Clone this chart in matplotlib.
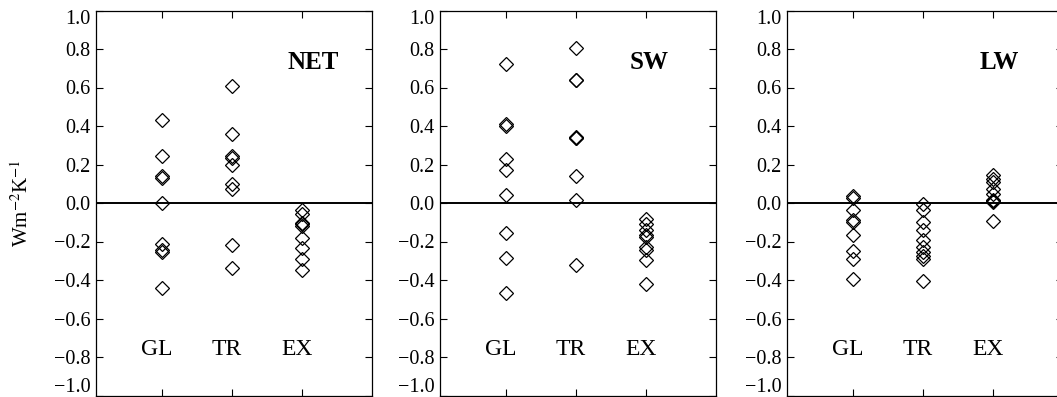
import matplotlib.pyplot as plt
import matplotlib.transforms as mtransforms
import numpy as np

plt.rcParams['font.family'] = ['Liberation Serif', 'DejaVu Serif']
plt.rcParams['mathtext.fontset'] = 'stix'

regions = ['GL', 'TR', 'EX']
panels = ['NET', 'SW', 'LW']

# feedback values per region
net_gl = [0.43, 0.245, 0.14, 0.13, 0.0, -0.215, -0.245, -0.255, -0.44]
net_tr = [0.61, 0.358, 0.242, 0.232, 0.2, 0.1, 0.074, -0.216, -0.336]
net_ex = [-0.035, -0.055, -0.104, -0.111, -0.118, -0.18, -0.234, -0.29, -0.346]

sw_gl = [0.724, 0.409, 0.398, 0.23, 0.173, 0.04, -0.156, -0.284, -0.468]
sw_tr = [0.807, 0.641, 0.637, 0.343, 0.340, 0.336, 0.14, 0.017, -0.324]
sw_ex = [-0.081, -0.111, -0.142, -0.168, -0.177, -0.229, -0.242, -0.294, -0.423]

lw_gl = [0.035, 0.028, -0.035, -0.09, -0.097, -0.165, -0.249, -0.289, -0.393]
lw_tr = [-0.005, -0.035, -0.1, -0.14, -0.19, -0.23, -0.255, -0.275, -0.29, -0.405]
lw_ex = [0.145, 0.125, 0.11, 0.075, 0.045, 0.018, 0.01, 0.005, -0.095]

data = [[net_gl, net_tr, net_ex],
        [sw_gl, sw_tr, sw_ex],
        [lw_gl, lw_tr, lw_ex]]

yticks = np.round(np.arange(-1.0, 1.01, 0.2), 1)
ylabels = [('%.1f' % abs(v)) if v >= 0 else '\u2212%.1f' % abs(v) for v in yticks]
lefts = [96, 440, 787]
title_x = [3.16, 3.05, 3.09]

fig = plt.figure(figsize=(10.57, 3.97), dpi=100)

for i in range(3):
    ax = fig.add_axes([lefts[i] / 1057., 1.5 / 397., 276 / 1057., 385 / 397.])
    for j in range(3):
        vals = data[i][j]
        ax.plot(np.full(len(vals), j + 1), vals, 'D', ms=6.8, mfc='none', mec='black', mew=0.9)
        ax.text(j + 0.93, -0.76, regions[j], fontsize=17, ha='center', va='center')
    ax.axhline(0, color='black', lw=1.4)
    ax.text(title_x[i], 0.73, panels[i], fontsize=18, fontweight='bold', ha='center', va='center')
    ax.set_xlim(0.06, 4.0)
    ax.set_ylim(-1.0, 1.0)
    ax.set_xticks([1, 2, 3])
    ax.set_xticklabels([])
    ax.set_yticks(yticks)
    ax.set_yticklabels(ylabels)
    ax.tick_params(direction='in', top=True, right=True, length=5, width=0.8,
                   labelsize=14.5, pad=4)
    # keep the end labels inside the axes height, as in the original
    ticks = ax.yaxis.get_major_ticks()
    ticks[0].label1.set_va('bottom')
    ticks[0].label1.set_transform(ticks[0].label1.get_transform() +
                                  mtransforms.ScaledTranslation(0, -1 / 100., fig.dpi_scale_trans))
    ticks[-1].label1.set_va('top')
    for s in ax.spines.values():
        s.set_linewidth(0.9)
    if i == 0:
        ax.set_ylabel(r'Wm$^{-2}$K$^{-1}$', fontsize=15)
        ax.yaxis.set_label_coords(-0.228, 0.5)

plt.savefig('out.png', dpi=100)
